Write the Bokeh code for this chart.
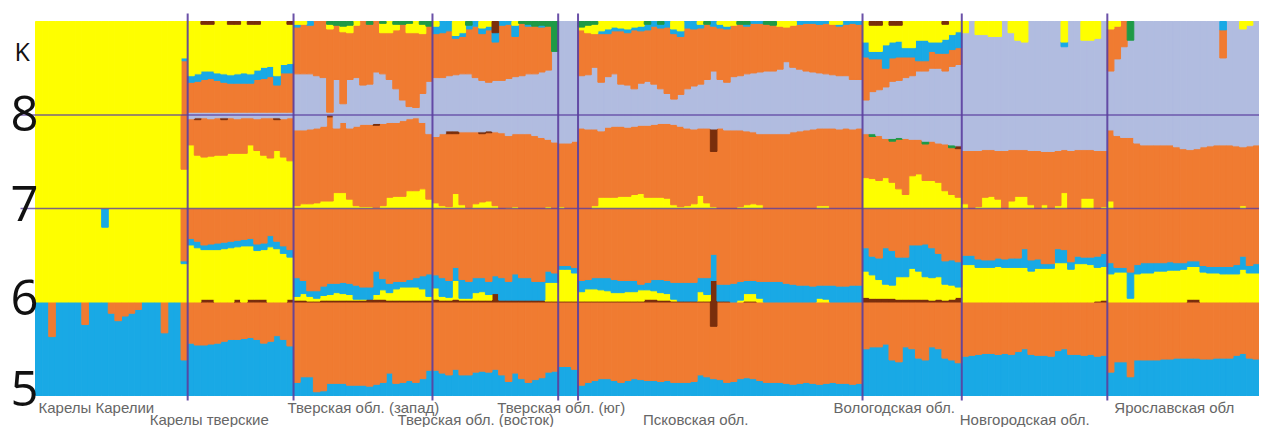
import numpy as np
from bokeh.plotting import figure
from bokeh.models import Range1d
from bokeh.embed import file_html
from bokeh.resources import INLINE
from bokeh.core.properties import value

# ---------------- data ----------------
POPULATIONS = ["Карелы Карелии", "Карелы тверские", "Тверская обл. (запад)",
               "Тверская обл. (восток)", "Тверская обл. (юг)", "Псковская обл.",
               "Вологодская обл.", "Новгородская обл.", "Ярославская обл"]
COUNTS = [23, 16, 21, 19, 3, 43, 15, 22, 23]
K_VALUES = ["5", "6", "7", "8"]

# ancestry proportions (%), one sub-list per population, one value per individual
K5_BLUE = [
    [100, 100, 63, 100, 100, 100, 100, 76, 100, 100, 100, 88, 80, 85, 88, 92, 100, 100, 100, 67, 100, 100, 38],
    [56, 54, 54, 55, 56, 58, 60, 60, 61, 62, 60, 56, 58, 64, 60, 53],
    [14, 20, 20, 4, 5, 13, 13, 13, 11, 11, 11, 10, 12, 14, 24, 13, 14, 16, 14, 18, 27],
    [27, 24, 22, 28, 22, 22, 25, 26, 25, 28, 22, 15, 24, 18, 14, 17, 19, 25, 26],
    [31, 31, 28],
    [11, 14, 16, 18, 18, 16, 14, 16, 18, 17, 16, 16, 15, 16, 14, 14, 14, 15, 22, 20, 18, 17, 14, 15, 18,
     19, 18, 16, 14, 14, 14, 13, 12, 13, 14, 13, 12, 13, 14, 13, 13, 12, 13],
    [50, 52, 52, 55, 38, 36, 52, 50, 40, 38, 52, 50, 40, 38, 35],
    [42, 43, 44, 45, 45, 44, 45, 44, 47, 50, 44, 43, 43, 42, 48, 50, 44, 44, 43, 44, 42, 43],
    [25, 36, 36, 20, 38, 38, 38, 38, 39, 39, 40, 40, 40, 40, 39, 39, 40, 40, 40, 43, 45, 40, 39],
]
K5_BROWN = {"Псковская обл.": {20: 26}}

K6_BROWN = [
    [0, 0, 0, 0, 0, 0, 0, 0, 0, 0, 0, 0, 0, 0, 0, 0, 0, 0, 0, 0, 0, 0, 0],
    [0, 0, 3, 3, 0, 0, 0, 3, 0, 3, 3, 3, 0, 0, 0, 3],
    [2, 2, 1, 1, 2, 2, 2, 2, 2, 2, 2, 3, 3, 3, 2, 2, 2, 2, 2, 2, 2],
    [3, 2, 2, 3, 2, 2, 2, 2, 2, 9, 2, 2, 2, 2, 2, 2, 2, 1, 1],
    [1, 1, 1],
    [1, 1, 1, 1, 1, 1, 1, 1, 1, 1, 3, 3, 2, 2, 1, 1, 1, 1, 1, 1, 23, 1, 1, 0, 0,
     1, 1, 0, 0, 0, 0, 0, 0, 0, 0, 0, 0, 0, 0, 0, 0, 0, 0],
    [5, 4, 4, 4, 4, 3, 3, 3, 3, 3, 2, 3, 2, 3, 5],
    [0, 0, 0, 0, 0, 0, 0, 0, 0, 0, 0, 0, 0, 0, 0, 0, 0, 0, 0, 0, 1, 2],
    [0, 0, 0, 0, 0, 0, 0, 0, 0, 0, 0, 0, 3, 3, 0, 0, 0, 0, 0, 0, 0, 0, 0],
]
K6_YELLOW = [
    [100, 100, 100, 100, 100, 100, 100, 100, 100, 100, 80, 100, 100, 100, 100, 100, 100, 100, 100, 100, 100, 100, 41],
    [61, 58, 53, 53, 56, 57, 58, 56, 60, 57, 52, 53, 59, 57, 52, 45],
    [4, 7, 5, 3, 5, 6, 8, 7, 6, 1, 1, 0, 5, 10, 8, 12, 14, 14, 14, 12, 4],
    [12, 4, 3, 20, 2, 2, 8, 9, 6, 0, 0, 0, 0, 0, 0, 0, 0, 20, 20],
    [34, 34, 30],
    [10, 13, 13, 12, 11, 9, 9, 10, 10, 12, 10, 9, 8, 7, 2, 0, 0, 0, 10, 7, 0, 0, 0, 0, 2,
     8, 8, 4, 0, 0, 0, 0, 0, 0, 0, 0, 4, 3, 0, 0, 0, 0, 0],
    [28, 25, 20, 15, 14, 24, 24, 33, 30, 24, 24, 24, 17, 15, 11],
    [40, 40, 37, 37, 37, 38, 37, 37, 37, 37, 33, 36, 36, 36, 42, 42, 35, 41, 41, 40, 36, 36],
    [30, 32, 32, 4, 30, 31, 31, 33, 33, 34, 34, 35, 35, 35, 32, 31, 31, 30, 30, 30, 35, 31, 31],
]
K6_BLUE = [
    [0, 0, 0, 0, 0, 0, 0, 0, 0, 0, 20, 0, 0, 0, 0, 0, 0, 0, 0, 0, 0, 0, 3],
    [7, 7, 5, 6, 7, 7, 7, 7, 7, 8, 7, 7, 12, 8, 8, 8],
    [20, 14, 6, 8, 10, 12, 10, 12, 12, 15, 13, 13, 25, 12, 10, 8, 6, 8, 10, 14, 24],
    [14, 20, 18, 14, 20, 18, 16, 15, 14, 19, 24, 20, 28, 24, 24, 20, 20, 12, 10],
    [4, 4, 6],
    [12, 10, 12, 13, 14, 14, 13, 12, 12, 6, 8, 12, 14, 14, 18, 20, 20, 20, 15, 18, 28, 18, 18, 20, 20,
     14, 14, 18, 22, 22, 22, 20, 19, 18, 18, 17, 14, 15, 18, 17, 17, 18, 18],
    [25, 20, 23, 39, 37, 21, 21, 25, 28, 35, 32, 25, 25, 27, 27],
    [10, 10, 9, 8, 8, 9, 9, 10, 10, 20, 12, 10, 5, 5, 15, 14, 8, 8, 7, 8, 12, 14],
    [12, 5, 5, 28, 10, 11, 11, 9, 9, 9, 8, 7, 6, 6, 7, 7, 7, 8, 8, 10, 14, 8, 10],
]

K7_YELLOW = [
    [100, 100, 100, 100, 100, 100, 100, 100, 100, 100, 100, 100, 100, 100, 100, 100, 100, 100, 100, 100, 100, 100, 42],
    [68, 57, 55, 56, 57, 57, 59, 59, 59, 68, 62, 57, 54, 62, 55, 51],
    [3, 5, 5, 6, 8, 8, 17, 17, 10, 3, 2, 2, 1, 3, 12, 13, 13, 19, 19, 21, 10],
    [6, 3, 2, 16, 4, 1, 5, 7, 8, 3, 0, 1, 2, 0, 0, 0, 0, 2, 0],
    [2, 0, 0],
    [0, 0, 3, 12, 12, 12, 13, 13, 15, 16, 12, 12, 12, 11, 4, 2, 3, 5, 14, 6, 2, 0, 0, 0, 2,
     4, 5, 4, 0, 0, 0, 0, 0, 0, 0, 0, 3, 3, 0, 0, 0, 0, 0],
    [33, 32, 30, 33, 28, 21, 15, 35, 37, 30, 30, 28, 19, 15, 12],
    [5, 0, 2, 12, 13, 10, 0, 8, 13, 13, 4, 0, 4, 0, 3, 17, 0, 0, 11, 11, 0, 2],
    [8, 0, 0, 0, 0, 0, 0, 0, 0, 0, 0, 0, 0, 0, 0, 0, 0, 0, 0, 0, 3, 0, 0],
]
K7_LAVENDER = [
    [0, 0, 0, 0, 0, 0, 0, 0, 0, 0, 0, 0, 0, 0, 0, 0, 0, 0, 0, 0, 0, 0, 0],
    [4, 3, 3, 4, 3, 3, 3, 4, 3, 3, 4, 3, 3, 3, 4, 3],
    [16, 16, 15, 14, 12, 0, 14, 8, 14, 12, 10, 10, 9, 9, 8, 8, 6, 4, 3, 8, 20],
    [23, 20, 17, 17, 18, 18, 18, 18, 17, 18, 19, 22, 20, 20, 20, 22, 24, 26, 29],
    [30, 30, 28],
    [14, 15, 15, 17, 13, 12, 12, 13, 12, 11, 11, 10, 9, 9, 10, 12, 14, 15, 14, 14, 15, 14, 16, 16, 16,
     17, 18, 20, 20, 20, 20, 20, 18, 17, 16, 15, 14, 14, 14, 15, 14, 15, 14],
    [20, 20, 22, 25, 25, 24, 25, 26, 26, 28, 28, 30, 31, 32, 33],
    [38, 38, 38, 37, 37, 38, 38, 37, 37, 37, 38, 38, 39, 39, 38, 37, 38, 37, 37, 37, 38, 38],
    [16, 22, 24, 24, 30, 32, 32, 32, 32, 32, 34, 36, 37, 36, 34, 33, 32, 32, 32, 33, 34, 33, 32],
]
K7_BROWN = {"Карелы тверские": {1: 2, 5: 2, 13: 2},
            "Тверская обл. (запад)": {5: 2, 12: 2},
            "Тверская обл. (восток)": {2: 3, 3: 3, 7: 2, 8: 2},
            "Псковская обл.": {20: 24},
            "Вологодская обл.": {14: 3}}
K7_GREEN = {"Вологодская обл.": {1: 3, 4: 3, 5: 2, 9: 3, 13: 3}}

K8_LAVENDER = [
    [0, 0, 0, 0, 0, 0, 0, 0, 0, 0, 0, 0, 0, 0, 0, 0, 0, 0, 0, 0, 0, 0, 0],
    [3, 3, 3, 3, 3, 3, 3, 3, 3, 3, 3, 3, 3, 3, 3, 3],
    [44, 44, 44, 42, 40, 3, 38, 12, 38, 40, 32, 33, 46, 44, 38, 28, 16, 9, 8, 23, 36],
    [40, 40, 42, 43, 44, 44, 40, 37, 35, 37, 37, 39, 41, 42, 44, 44, 46, 48, 68],
    [100, 100, 100],
    [42, 43, 51, 35, 41, 44, 33, 32, 28, 34, 36, 33, 28, 23, 17, 22, 28, 31, 33, 38, 47, 38, 35, 41, 42,
     44, 45, 46, 47, 47, 49, 57, 51, 49, 47, 46, 45, 44, 43, 42, 42, 38, 38],
    [16, 25, 27, 30, 36, 37, 40, 42, 47, 47, 50, 50, 47, 52, 54],
    [88, 100, 86, 86, 84, 84, 100, 88, 80, 78, 100, 100, 100, 100, 100, 73, 100, 100, 80, 80, 82, 100],
    [47, 60, 73, 80, 100, 100, 100, 100, 100, 100, 100, 100, 100, 100, 100, 100, 100, 61, 100, 100, 92, 96, 100],
]
K8_BLUE = [
    [0, 0, 0, 0, 0, 0, 0, 0, 0, 0, 0, 0, 0, 0, 0, 0, 0, 0, 0, 0, 0, 0, 3],
    [7, 8, 9, 8, 8, 9, 9, 10, 11, 10, 10, 12, 11, 10, 9, 10],
    [3, 0, 4, 0, 0, 0, 0, 0, 0, 0, 0, 0, 0, 0, 0, 0, 0, 0, 0, 0, 0],
    [8, 12, 10, 3, 4, 4, 5, 6, 4, 10, 4, 3, 12, 0, 2, 0, 2, 0, 0],
    [0, 0, 0],
    [0, 0, 0, 3, 5, 4, 3, 4, 3, 5, 6, 5, 4, 6, 5, 6, 7, 8, 4, 0, 5, 4, 3, 0, 0,
     2, 2, 2, 0, 0, 0, 0, 0, 3, 2, 2, 3, 2, 0, 2, 3, 2, 3],
    [16, 8, 8, 25, 17, 17, 10, 10, 22, 22, 10, 12, 15, 16, 17],
    [0, 0, 0, 0, 0, 0, 0, 0, 0, 0, 0, 0, 0, 0, 0, 5, 0, 0, 0, 0, 0, 0],
    [0, 0, 0, 0, 0, 0, 0, 0, 0, 0, 0, 0, 0, 0, 0, 0, 0, 9, 0, 0, 0, 0, 0],
]
K8_YELLOW = [
    [100, 100, 100, 100, 100, 100, 100, 100, 100, 100, 100, 100, 100, 100, 100, 100, 100, 100, 100, 100, 100, 100, 39],
    [58, 56, 50, 50, 55, 56, 54, 53, 55, 53, 49, 49, 48, 58, 46, 42],
    [3, 3, 0, 0, 0, 5, 0, 6, 8, 4, 0, 0, 0, 10, 12, 6, 0, 10, 12, 10, 0],
    [5, 0, 0, 15, 12, 0, 0, 7, 5, 0, 0, 0, 4, 0, 0, 0, 0, 0, 0],
    [0, 0, 0],
    [3, 8, 10, 10, 8, 6, 7, 8, 6, 5, 0, 0, 0, 0, 8, 10, 0, 0, 3, 0, 0, 3, 5, 4, 0,
     0, 0, 0, 0, 0, 5, 6, 4, 0, 0, 0, 0, 0, 3, 3, 0, 0, 0],
    [22, 28, 28, 25, 18, 17, 28, 28, 20, 20, 22, 22, 16, 14, 11],
    [12, 0, 14, 14, 16, 16, 0, 12, 20, 22, 0, 0, 0, 0, 0, 22, 0, 0, 20, 20, 18, 0],
    [8, 5, 0, 0, 0, 0, 0, 0, 0, 0, 0, 0, 0, 0, 0, 0, 0, 0, 0, 0, 8, 4, 0],
]
K8_GREEN = {"Тверская обл. (запад)": {5: 3, 6: 4, 7: 5, 8: 4, 11: 3, 13: 2, 15: 3, 16: 3, 17: 2, 19: 3, 20: 5},
            "Тверская обл. (восток)": {5: 4, 13: 2, 14: 3, 15: 5, 16: 4, 17: 5, 18: 32},
            "Псковская обл.": {0: 6, 1: 4, 2: 3, 10: 3, 12: 3, 19: 3, 24: 3, 25: 3, 28: 3, 29: 4},
            "Ярославская обл": {3: 20}}
K8_BROWN = {"Карелы тверские": {2: 3, 3: 3, 6: 3, 7: 3, 9: 3, 10: 3, 15: 3},
            "Тверская обл. (восток)": {9: 12},
            "Вологодская обл.": {1: 4, 2: 4, 4: 4, 5: 4, 12: 3}}

# ---------------- style ----------------
YELLOW, ORANGE, BLUE = "#FEFE00", "#F07B31", "#19A9E5"
LAVENDER, GREEN, BROWN = "#B1BCE0", "#1E9A46", "#7A2E0C"
SEP_COLOR = "#5B3E9F"
LABEL_COLOR = "#666666"

FIG_W, FIG_H = 1259, 427
PLOT_L, PLOT_T, PLOT_B = 35, 21, 395          # canvas pixels of the bar area
N = sum(COUNTS)
W_IND = (FIG_W - PLOT_L) / N
ROW_PX = (PLOT_B - PLOT_T) / 4


def dense(nested):
    out = []
    for sub, n, name in zip(nested, COUNTS, POPULATIONS):
        assert len(sub) == n, (name, len(sub), n)
        out.extend(sub)
    return np.array(out, dtype=float)


def sparse(d):
    parts = []
    for pop, n in zip(POPULATIONS, COUNTS):
        row = np.zeros(n)
        for i, v in d.get(pop, {}).items():
            row[i] = v
        parts.append(row)
    return np.concatenate(parts)


def px_x(px):
    return (px - PLOT_L) / W_IND


def px_y(py):
    return (PLOT_B - py) / ROW_PX


p = figure(width=FIG_W, height=FIG_H, output_backend="svg", toolbar_location=None,
           x_axis_location=None, y_axis_location=None,
           x_range=Range1d(-PLOT_L / W_IND, N),
           y_range=Range1d(-(FIG_H - PLOT_B) / ROW_PX, 4 + PLOT_T / ROW_PX),
           min_border=0, min_border_left=0, min_border_right=0,
           min_border_top=0, min_border_bottom=0)
p.outline_line_color = None
p.grid.grid_line_color = None
p.background_fill_color = "white"
p.border_fill_color = "white"

ROWS = [
    [(BLUE, dense(K5_BLUE)), (ORANGE, None), (BROWN, sparse(K5_BROWN))],
    [(BROWN, dense(K6_BROWN)), (YELLOW, dense(K6_YELLOW)), (BLUE, dense(K6_BLUE)), (ORANGE, None)],
    [(YELLOW, dense(K7_YELLOW)), (ORANGE, None), (BROWN, sparse(K7_BROWN)),
     (GREEN, sparse(K7_GREEN)), (LAVENDER, dense(K7_LAVENDER))],
    [(LAVENDER, dense(K8_LAVENDER)), (ORANGE, None), (BLUE, dense(K8_BLUE)),
     (YELLOW, dense(K8_YELLOW)), (GREEN, sparse(K8_GREEN)), (BROWN, sparse(K8_BROWN))],
]

idx = np.arange(N, dtype=float)
for row, comps in enumerate(ROWS):
    known = sum(v for c, v in comps if v is not None)
    rest = np.clip(100.0 - known, 0, None)
    total = known + rest
    base = np.zeros(N)
    for color, v in comps:
        v = rest if v is None else v
        frac = v / total
        m = frac > 0
        if m.any():
            p.quad(left=idx[m], right=idx[m] + 1, bottom=row + base[m], top=row + (base + frac)[m],
                   fill_color=color, line_color=color, line_width=1.0)
        base = base + frac

# horizontal separators between K rows
p.segment(x0=[px_x(20)] * 2, x1=[N] * 2, y0=[2, 3], y1=[2, 3],
          line_color=SEP_COLOR, line_width=1.3, line_alpha=0.8)

# vertical separators between populations
bounds = np.cumsum(COUNTS)[:-1]
p.segment(x0=bounds, x1=bounds, y0=px_y(400), y1=px_y(13),
          line_color=SEP_COLOR, line_width=2, line_alpha=0.9)

# K labels
p.text(x=[px_x(14)], y=[px_y(50)], text=["K"], text_font=value("Open Sans"),
       text_font_size="25px", text_color="#111111", text_baseline="alphabetic", text_align="left")
digit_base = [388, 297, 203, 113]
p.text(x=[px_x(10)] * 4, y=[px_y(b) for b in digit_base], text=K_VALUES,
       text_font=value("Open Sans"), text_font_size="49px", text_color="#111111",
       text_baseline="alphabetic", text_align="left")

# population labels (two alternating lines)
starts = np.concatenate([[0], bounds])
label_shift = [3, -38, -6, -35, -61, 65, -29, -2, 7]
for k, (name, s) in enumerate(zip(POPULATIONS, starts)):
    base_y = 407 if k % 2 == 0 else 419
    p.text(x=[s + label_shift[k] / W_IND], y=[px_y(base_y)], text=[name],
           text_font=value("Liberation Sans"), text_font_size="15px", text_color=LABEL_COLOR,
           text_baseline="alphabetic", text_align="left")

open("out.html", "w").write(file_html(p, INLINE))
